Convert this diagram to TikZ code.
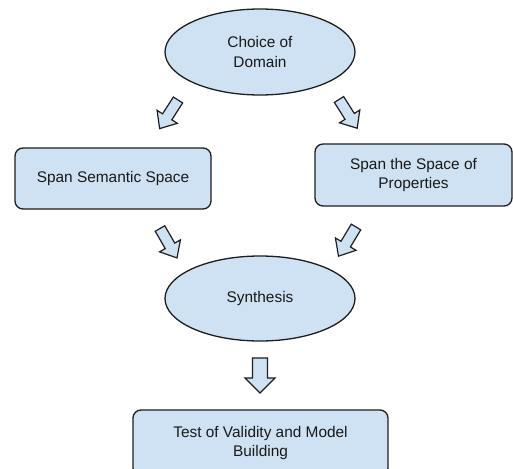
\documentclass[tikz,border=0pt]{standalone}
\usepackage{fontspec}
\setmainfont{Liberation Sans}
\usetikzlibrary{shapes.geometric}
\definecolor{fillblue}{HTML}{CFE2F3}
\definecolor{edgecol}{HTML}{1E1E1E}
% block arrow: tail x, tail y, angle, length, shaft width, head width, head length
\newcommand\blockarrow[7]{%
  \draw[barrow,shift={(#1,#2)},rotate=#3]
    (0,{-#5/2}) -- ({#4-#7},{-#5/2}) -- ({#4-#7},{-#6/2}) -- (#4,0)
    -- ({#4-#7},{#6/2}) -- ({#4-#7},{#5/2}) -- (0,{#5/2}) -- cycle;}
\begin{document}
\begin{tikzpicture}[x=1pt,y=1pt,
  every node/.style={font=\fontsize{15.4}{19.5}\selectfont, text=black!90, align=center},
  ell/.style={ellipse, draw=edgecol, fill=fillblue, line width=1.3pt, inner sep=0pt,
    minimum width=190pt, minimum height=86pt},
  rbox/.style={rectangle, rounded corners=8pt, draw=edgecol, fill=fillblue, line width=1.3pt,
    inner sep=0pt},
  barrow/.style={draw=edgecol, fill=fillblue, line width=1.2pt, line join=miter}]
\path[use as bounding box] (0,0) rectangle (513,-468);
\clip (0,0) rectangle (513,-468);
\fill[white] (0,0) rectangle (513,-468);

\node[ell] (domain) at (260,-52) {Choice of\\Domain};
\node[rbox, minimum width=196pt, minimum height=61pt] (sem) at (113,-178.5) {Span Semantic Space};
\node[rbox, minimum width=197pt, minimum height=62pt] (prop) at (413.5,-175) {Span the Space of\\Properties};
\node[ell, minimum height=85pt] (syn) at (260,-298.5) {Synthesis};
\node[rbox, minimum width=255pt, minimum height=66pt] (test) at (260.5,-443) {Test of Validity and Model\\Building};

\blockarrow{178}{-100}{-122.7}{34}{11}{24}{14}
\blockarrow{339}{-99.5}{-57.7}{34}{11}{24}{14}
\blockarrow{160}{-228.5}{-60}{34}{11}{24}{14}
\blockarrow{356}{-227}{-121}{34}{11}{24}{14}
\blockarrow{260}{-358}{-90}{35}{15}{30}{15}
\end{tikzpicture}
\end{document}
